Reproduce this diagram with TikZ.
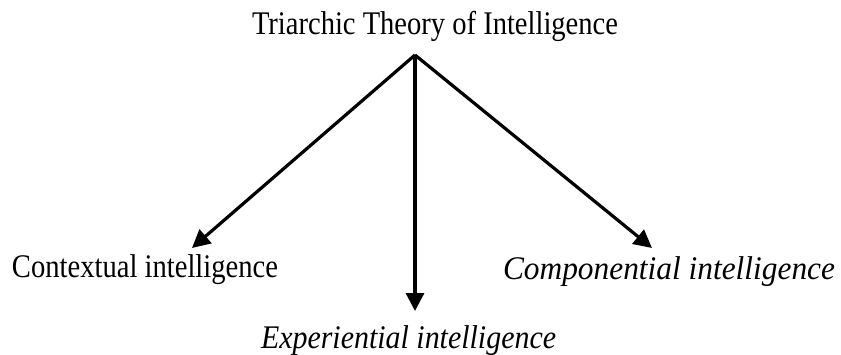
\documentclass[tikz,border=0pt]{standalone}
\usepackage{fontspec}
\setmainfont{Liberation Serif}
\usetikzlibrary{arrows.meta}
\tikzset{
  lbl/.style={inner sep=0pt, outer sep=0pt, anchor=base west, text=black},
  conn/.style={line width=3.2pt, -{Triangle[length=18pt,width=18pt]}, black}
}
\newcommand{\lblfont}{\fontsize{33}{38}\selectfont}
\begin{document}
\begin{tikzpicture}[x=1pt,y=-1pt]
\useasboundingbox (0,0) rectangle (841,354);
\node[lbl] (title) at (252,34) {\resizebox{366pt}{\height}{\lblfont Triarchic Theory of Intelligence}};
\node[lbl] (ctx) at (12,277) {\resizebox{266pt}{\height}{\lblfont Contextual intelligence}};
\node[lbl] (cmp) at (503,279) {\resizebox{332pt}{\height}{\lblfont\itshape Componential intelligence}};
\node[lbl] (exp) at (261,348) {\resizebox{295pt}{\height}{\lblfont\itshape Experiential intelligence}};
\coordinate (apex) at (415,55);
\coordinate (tctx) at (192,248);
\coordinate (texp) at (415,311);
\coordinate (tcmp) at (652,248);
\draw[conn] (apex) -- (tctx);
\draw[conn] (apex) -- (texp);
\draw[conn] (apex) -- (tcmp);
\end{tikzpicture}
\end{document}
